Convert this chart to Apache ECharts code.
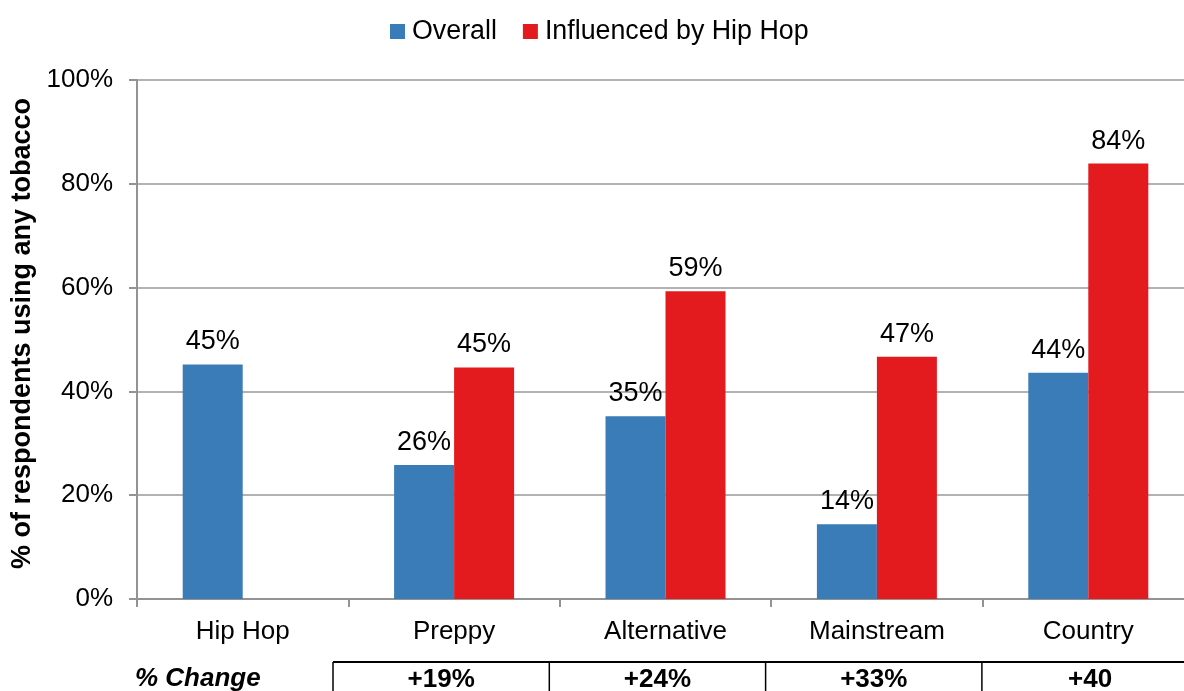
<!DOCTYPE html>
<html>
<head>
<meta charset="utf-8">
<script src="https://cdn.jsdelivr.net/npm/echarts@6/dist/echarts.min.js"></script>
<style>
  html, body { margin: 0; padding: 0; background: #fff; overflow: hidden; }
  #chart { width: 1184px; height: 691px; }
</style>
</head>
<body>
<div id="chart"></div>
<script>
// Tobacco use by style group, overall vs. influenced by hip hop
var categories = ['Hip Hop', 'Preppy', 'Alternative', 'Mainstream', 'Country'];
var overall = [45.2, 25.8, 35.2, 14.4, 43.6];
var influenced = [null, 44.6, 59.3, 46.7, 83.9];
var changeLabels = ['+19%', '+24%', '+33%', '+40'];
var yTicks = [0, 20, 40, 60, 80, 100];

var FONT = '"Liberation Sans", Arial, sans-serif';
var chart = echarts.init(document.getElementById('chart'), null, { renderer: 'canvas' });

function pctLabel(p) { return Math.round(p.value) + '%'; }

var option = {
  animation: false,
  textStyle: { fontFamily: FONT },
  legend: {
    top: 13,
    left: 385,
    itemWidth: 15,
    itemHeight: 15,
    itemGap: 26,
    textStyle: { fontSize: 26.8, color: '#000', fontFamily: FONT, padding: [0, 0, 0, 2] },
    data: [
      { name: 'Overall', icon: 'rect' },
      { name: 'Influenced by Hip Hop', icon: 'rect' }
    ]
  },
  grid: { left: 137, top: 80, width: 1057, bottom: 92, containLabel: false, outerBoundsMode: 'none' },
  xAxis: {
    type: 'category',
    data: categories,
    axisLine: { lineStyle: { color: '#939393', width: 2 } },
    axisTick: { show: true, length: 8, alignWithLabel: false, lineStyle: { color: '#939393', width: 2 } },
    axisLabel: { margin: 20, fontSize: 26, color: '#000', fontFamily: FONT }
  },
  yAxis: {
    type: 'value',
    min: yTicks[0],
    max: yTicks[yTicks.length - 1],
    interval: 20,
    name: '% of respondents using any tobacco',
    nameLocation: 'middle',
    nameGap: 101,
    nameRotate: 90,
    nameTextStyle: { fontSize: 27, fontWeight: 'bold', color: '#000', fontFamily: FONT, padding: [0, 0, 0, 12] },
    axisLine: { show: true, lineStyle: { color: '#939393', width: 2 } },
    axisTick: { show: true, length: 8, lineStyle: { color: '#939393', width: 2 } },
    axisLabel: { margin: 24, fontSize: 26, color: '#000', fontFamily: FONT, formatter: '{value}%' },
    splitLine: { show: true, lineStyle: { color: '#999999', width: 1.5 } }
  },
  series: [
    {
      name: 'Overall',
      type: 'bar',
      data: overall,
      barWidth: 60,
      barGap: '0%',
      itemStyle: { color: '#3a7cb8' },
      label: { show: true, position: 'top', distance: 9, fontSize: 27, color: '#000', fontFamily: FONT, formatter: pctLabel }
    },
    {
      name: 'Influenced by Hip Hop',
      type: 'bar',
      data: influenced,
      barWidth: 60,
      barGap: '0%',
      itemStyle: { color: '#e31b1f' },
      label: { show: true, position: 'top', distance: 9, fontSize: 27, color: '#000', fontFamily: FONT, formatter: pctLabel }
    }
  ]
};

chart.setOption(option);

// "% Change" row beneath the axis, one boxed cell per compared category
function drawChangeRow() {
  var elements = [];
  var rowTop = 662;
  var rowH = 40;
  var tableLeft = 333;
  var cellW = 216.3;
  elements.push({
    type: 'text',
    left: 135, top: rowTop + 4,
    style: { text: '% Change', font: 'italic bold 26px ' + FONT, fill: '#000' }
  });
  elements.push({
    type: 'line',
    shape: { x1: tableLeft, y1: rowTop, x2: 1184, y2: rowTop },
    style: { stroke: '#000', lineWidth: 2 }
  });
  for (var i = 0; i < changeLabels.length; i++) {
    var lx = tableLeft + i * cellW;
    elements.push({
      type: 'line',
      shape: { x1: lx, y1: rowTop, x2: lx, y2: rowTop + rowH },
      style: { stroke: '#000', lineWidth: 1.5 }
    });
    elements.push({
      type: 'text',
      x: lx + cellW / 2, y: rowTop + 5,
      style: { text: changeLabels[i], font: 'bold 26px ' + FONT, fill: '#000', textAlign: 'center', textVerticalAlign: 'top' }
    });
  }
  chart.setOption({ graphic: { elements: elements } });
}
drawChangeRow();
</script>
</body>
</html>
